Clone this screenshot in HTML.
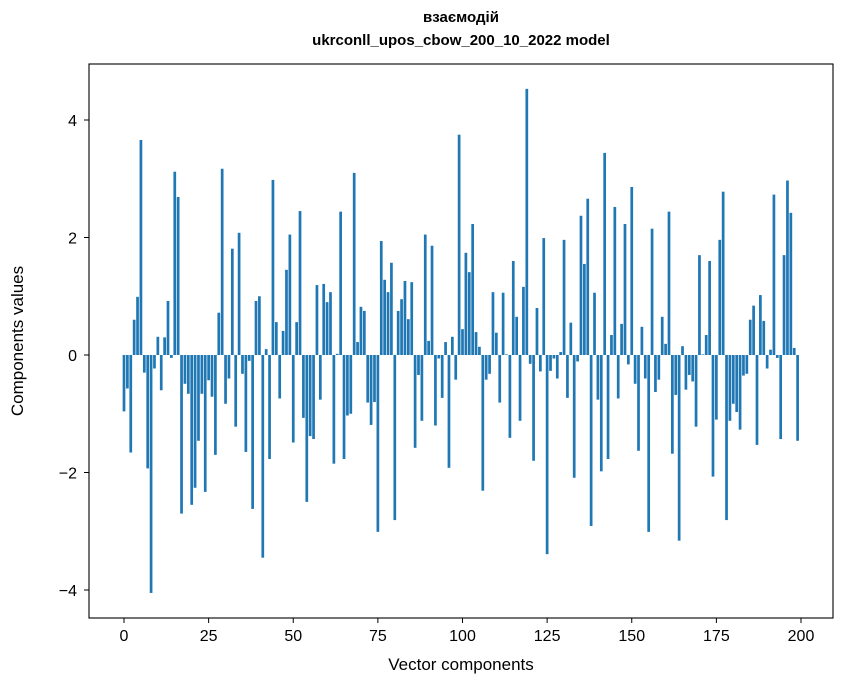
<!DOCTYPE html>
<html><head><meta charset="utf-8"><style>
body{margin:0;background:#fff;}
svg{display:block;font-family:"Liberation Sans","DejaVu Sans",sans-serif;}
</style></head><body>
<svg id="chart" width="847" height="696" viewBox="0 0 847 696" xmlns="http://www.w3.org/2000/svg">
<rect x="0" y="0" width="847" height="696" fill="#fff"/>
<text x="461" y="22" text-anchor="middle" font-size="15" font-weight="bold">взаємодій</text>
<text x="461" y="45" text-anchor="middle" font-size="15" font-weight="bold">ukrconll_upos_cbow_200_10_2022 model</text>
<g id="bars"></g>
<g id="xticks"></g>
<g id="yticks"></g>
<rect x="89" y="64" width="744" height="554" fill="none" stroke="#000" stroke-width="1.1"/>
<text x="461" y="670" text-anchor="middle" font-size="17">Vector components</text>
<text transform="translate(23,341) rotate(-90)" text-anchor="middle" font-size="17">Components values</text>
</svg>
<script>
const values = [
-0.96,-0.57,-1.66,0.6,0.99,3.66,-0.3,-1.93,-4.05,-0.23,
0.31,-0.6,0.3,0.92,-0.05,3.12,2.69,-2.7,-0.49,-0.66,
-2.55,-2.26,-1.46,-0.66,-2.33,-0.43,-0.71,-1.7,0.72,3.17,
-0.83,-0.4,1.81,-1.22,2.08,-0.32,-1.65,-0.1,-2.62,0.92,
1.0,-3.45,0.1,-1.77,2.98,0.56,-0.74,0.41,1.45,2.05,
-1.49,0.56,2.45,-1.07,-2.5,-1.38,-1.43,1.19,-0.76,1.21,
0.9,1.07,-1.85,0.02,2.44,-1.77,-1.03,-1.0,3.1,0.22,
0.82,0.75,-0.81,-1.19,-0.8,-3.01,1.94,1.28,1.07,1.57,
-2.81,0.75,0.95,1.26,0.61,1.24,-1.58,-0.34,-1.12,2.05,
0.24,1.86,-1.2,-0.06,-0.73,0.22,-1.92,0.31,-0.42,3.75,
0.44,1.74,1.41,2.23,0.39,0.14,-2.31,-0.42,-0.32,1.07,
0.38,-0.81,1.06,0.01,-1.41,1.6,0.65,-1.12,1.16,4.53,
-0.15,-1.8,0.8,-0.28,1.99,-3.39,-0.27,-0.06,-0.4,0.05,
1.96,-0.73,0.55,-2.09,-0.11,2.37,1.55,2.66,-2.91,1.06,
-0.76,-1.98,3.44,-1.77,0.34,2.52,-0.74,0.53,2.23,-0.16,
2.86,-0.49,-1.63,0.48,-0.4,-3.01,2.15,-0.63,-0.42,0.65,
0.19,2.44,-1.68,-0.68,-3.16,0.15,-0.59,-0.34,-0.45,-1.22,
1.7,0.01,0.34,1.6,-2.07,-1.1,1.96,2.78,-2.81,-1.12,
-0.83,-0.97,-1.27,-0.35,-0.32,0.6,0.84,-1.53,1.02,0.58,
-0.23,0.09,2.73,-0.05,-1.43,1.7,2.97,2.42,0.12,-1.46
];
const xTickValues = [0,25,50,75,100,125,150,175,200];
const yTickValues = [-4,-2,0,2,4];
const yTickLabels = ["\u22124","\u22122","0","2","4"];

const NS = "http://www.w3.org/2000/svg";
function xScale(v){ return 124 + 3.385*v; }
function yScale(v){ return 355 - 58.75*v; }
const barW = 0.8*3.385;
const gb = document.getElementById('bars');
values.forEach((v,i)=>{
  const r = document.createElementNS(NS,'rect');
  const y0 = yScale(0), y1 = yScale(v);
  r.setAttribute('x', xScale(i)-barW/2);
  r.setAttribute('y', Math.min(y0,y1));
  r.setAttribute('width', barW);
  r.setAttribute('height', Math.max(Math.abs(y1-y0),0.3));
  r.setAttribute('fill', '#1f77b4');
  
  
  gb.appendChild(r);
});
const gx = document.getElementById('xticks');
xTickValues.forEach(t=>{
  const x = xScale(t);
  const l = document.createElementNS(NS,'line');
  l.setAttribute('x1',x); l.setAttribute('x2',x);
  l.setAttribute('y1',618); l.setAttribute('y2',623);
  l.setAttribute('stroke','#000');
  
  
  gx.appendChild(l);
  const tx = document.createElementNS(NS,'text');
  tx.setAttribute('x',x); tx.setAttribute('y',641);
  tx.setAttribute('text-anchor','middle'); tx.setAttribute('font-size','16');
  tx.textContent = String(t);
  
  
  gx.appendChild(tx);
});
const gy = document.getElementById('yticks');
yTickValues.forEach((t,k)=>{
  const y = yScale(t);
  const l = document.createElementNS(NS,'line');
  l.setAttribute('x1',84); l.setAttribute('x2',89);
  l.setAttribute('y1',y); l.setAttribute('y2',y);
  l.setAttribute('stroke','#000');
  
  
  gy.appendChild(l);
  const tx = document.createElementNS(NS,'text');
  tx.setAttribute('x',77); tx.setAttribute('y',y+6);
  tx.setAttribute('text-anchor','end'); tx.setAttribute('font-size','16');
  tx.textContent = yTickLabels[k];
  
  
  gy.appendChild(tx);
});
</script>
</body></html>
